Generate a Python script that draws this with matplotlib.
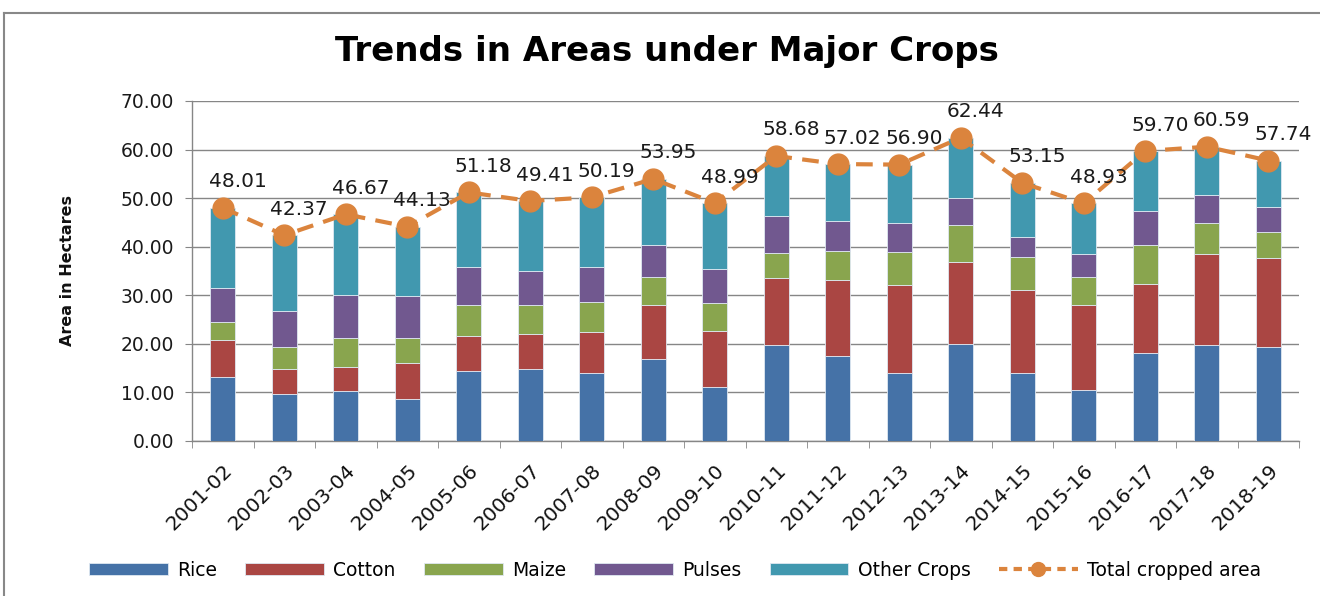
import matplotlib
matplotlib.use("Agg")
import matplotlib.pyplot as plt
import numpy as np
from matplotlib.lines import Line2D

years = ["2001-02", "2002-03", "2003-04", "2004-05", "2005-06", "2006-07",
         "2007-08", "2008-09", "2009-10", "2010-11", "2011-12", "2012-13",
         "2013-14", "2014-15", "2015-16", "2016-17", "2017-18", "2018-19"]
rice = [13.2, 9.6, 10.2, 8.6, 14.45, 14.9, 14.0, 16.85, 11.1, 19.7, 17.4, 14.1,
        19.9, 14.1, 10.4, 18.2, 19.7, 19.3]
cotton = [7.5, 5.3, 5.1, 7.4, 7.25, 7.2, 8.5, 11.05, 11.6, 13.9, 15.8, 18.1,
          17.0, 16.9, 17.7, 14.2, 18.9, 18.4]
maize = [3.7, 4.55, 6.0, 5.3, 6.4, 6.0, 6.2, 5.9, 5.8, 5.2, 6.0, 6.8,
         7.6, 6.9, 5.7, 8.0, 6.3, 5.4]
pulses = [7.2, 7.4, 8.8, 8.6, 7.8, 6.8, 7.2, 6.6, 7.0, 7.6, 6.1, 5.9,
          5.6, 4.15, 4.8, 7.0, 5.8, 5.1]
total = [48.01, 42.37, 46.67, 44.13, 51.18, 49.41, 50.19, 53.95, 48.99, 58.68,
         57.02, 56.90, 62.44, 53.15, 48.93, 59.70, 60.59, 57.74]
other = [round(t - r - c - m - p, 2) for t, r, c, m, p in zip(total, rice, cotton, maize, pulses)]

series = [("Rice", rice, "#4572A7"), ("Cotton", cotton, "#AA4643"),
          ("Maize", maize, "#89A54E"), ("Pulses", pulses, "#71588F"),
          ("Other Crops", other, "#4198AF")]
line_color = "#DB843D"
grid_color = "#868686"

fig = plt.figure(figsize=(13.2, 5.96), dpi=100)
ax = fig.add_axes([192/1320, 1 - 441/596, (1299-192)/1320, (441-101)/596])

x = np.arange(len(years))
bottom = np.zeros(len(years))
handles = []
for name, vals, col in series:
    b = ax.bar(x, vals, width=0.4, bottom=bottom, color=col, label=name,
               edgecolor="#dfe8f2", linewidth=0.6, zorder=3)
    bottom += np.array(vals)
    handles.append(b)

ln, = ax.plot(x, total, color=line_color, lw=3, dashes=(4, 2.5),
              marker="o", markersize=15, markeredgecolor=line_color,
              zorder=5, label="Total cropped area")
for xi, t in zip(x, total):
    ax.annotate(f"{t:.2f}", (xi, t), xytext=(15, 26), textcoords="offset pixels",
                ha="center", va="center", fontsize=14.5, color="#1a1a1a",
                zorder=6, annotation_clip=False)

ax.set_xlim(-0.5, len(years) - 0.5)
ax.set_ylim(0, 70)
ax.set_yticks(np.arange(0, 71, 10))
ax.set_yticklabels([f"{v:.2f}" for v in np.arange(0, 71, 10)], fontsize=13.5, color="#1a1a1a")
ax.set_xticks(x)
ax.set_xticklabels(years, rotation=45, ha="right", rotation_mode="anchor",
                   fontsize=14.5, color="#111111")
ax.set_xticks(np.arange(-0.5, len(years), 1), minor=True)
ax.tick_params(axis="x", which="major", length=0, pad=14)
ax.tick_params(axis="x", which="minor", length=5, color=grid_color, direction="out")
ax.tick_params(axis="y", length=5, color=grid_color, direction="out", pad=8)

ax.yaxis.grid(True, color=grid_color, lw=1, zorder=0)
ax.set_axisbelow(True)
for s in ["top", "right"]:
    ax.spines[s].set_visible(False)
for s in ["left", "bottom"]:
    ax.spines[s].set_color(grid_color)
    ax.spines[s].set_linewidth(1)

fig.text(68/1320, 1 - 271/596, "Area in Hectares", rotation=90, ha="center",
         va="center", fontsize=11.5, fontweight="bold", color="#111111")

fig.text(0.505, 1 - 52/596, "Trends in Areas under Major Crops", ha="center",
         va="center", fontsize=24.5, fontweight="bold", color="#000000")

leg_line = Line2D([0], [0], color=line_color, lw=3, dashes=(2, 1.5),
                  marker="o", markersize=10)
leg = fig.legend(handles + [leg_line],
                 [s[0] for s in series] + ["Total cropped area"],
                 loc="center", bbox_to_anchor=(675/1320, 1 - 570/596), ncol=6,
                 frameon=False, fontsize=13.5, handlelength=4.2, handleheight=0.6,
                 columnspacing=1.5, handletextpad=0.5)

# outer chart border
fig.add_artist(Line2D([4/1320, 4/1320], [0, 1 - 13/596], color="#888888", lw=1.5,
                      transform=fig.transFigure))
fig.add_artist(Line2D([4/1320, 1], [1 - 13/596, 1 - 13/596], color="#888888", lw=1.5,
                      transform=fig.transFigure))

fig.savefig("out.png", dpi=100)
